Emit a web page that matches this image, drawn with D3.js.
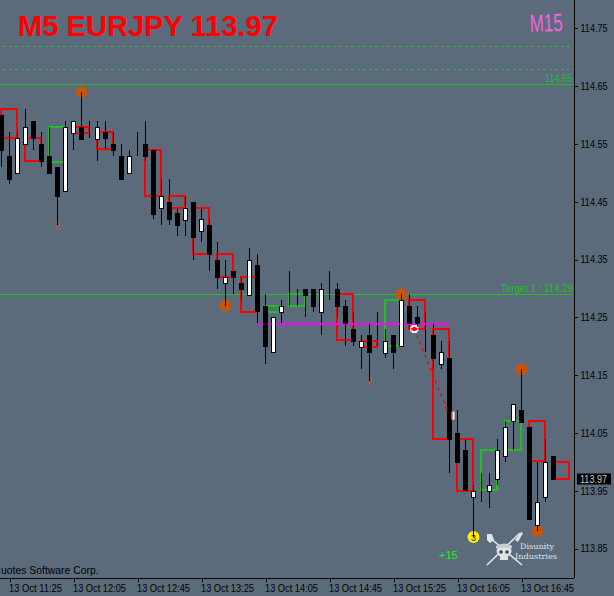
<!DOCTYPE html>
<html><head><meta charset="utf-8">
<script src="https://cdn.jsdelivr.net/npm/d3@7"></script>
<style>html,body{margin:0;padding:0;background:#5b6b7c}svg{display:block}</style>
</head><body><div id="c"></div>
<script>
// M5 candles, one entry per bar (bar 0 = 13 Oct 11:20)
const open=[114.60,114.53,114.50,114.55,114.59,114.55,114.53,114.51,114.47,114.57,114.58,114.57,114.56,114.57,114.55,114.53,114.50,114.54,114.55,114.54,114.44,114.45,114.43,114.42,114.45,114.40,114.41,114.35,114.31,114.33,114.31,114.29,114.34,114.27,114.19,114.26,114.28,114.29,114.30,114.30,114.26,114.29,114.30,114.27,114.23,114.20,114.22,114.20,114.19,114.22,114.20,114.27,114.25,114.23,114.22,114.17,114.18,114.05,114.02,113.94,113.94,113.95,113.97,114.01,114.07,114.09,114.06,113.89,113.94,114.01];
const high=[114.60,114.57,114.57,114.61,114.59,114.57,114.58,114.51,114.59,114.59,114.64,114.59,114.59,114.59,114.57,114.55,114.54,114.57,114.59,114.54,114.49,114.49,114.44,114.46,114.45,114.44,114.42,114.38,114.35,114.33,114.32,114.37,114.36,114.29,114.25,114.28,114.33,114.30,114.30,114.30,114.31,114.33,114.31,114.28,114.26,114.22,114.24,114.26,114.23,114.22,114.29,114.29,114.27,114.26,114.24,114.21,114.21,114.09,114.04,113.96,113.98,113.98,114.04,114.07,114.10,114.16,114.06,114.00,114.04,114.01];
const low=[114.51,114.48,114.50,114.55,114.54,114.51,114.50,114.41,114.47,114.54,114.56,114.56,114.52,114.54,114.53,114.49,114.50,114.53,114.52,114.42,114.41,114.41,114.39,114.39,114.35,114.38,114.33,114.30,114.27,114.29,114.28,114.29,114.24,114.17,114.19,114.24,114.27,114.27,114.25,114.26,114.22,114.28,114.25,114.20,114.20,114.16,114.14,114.20,114.18,114.16,114.20,114.23,114.23,114.19,114.16,114.16,113.98,114.00,113.95,113.87,113.93,113.92,113.96,114.00,114.02,114.07,113.90,113.88,113.93,113.97];
const close=[114.54,114.49,114.56,114.58,114.56,114.52,114.50,114.46,114.58,114.59,114.56,114.57,114.58,114.56,114.54,114.49,114.53,114.54,114.53,114.43,114.46,114.42,114.41,114.44,114.39,114.42,114.36,114.32,114.32,114.32,114.30,114.35,114.26,114.20,114.25,114.27,114.28,114.29,114.29,114.27,114.30,114.29,114.27,114.24,114.21,114.21,114.19,114.20,114.21,114.19,114.28,114.24,114.24,114.23,114.18,114.19,114.04,114.00,113.95,113.95,113.94,113.96,114.02,114.06,114.10,114.07,113.90,113.93,114.00,113.97];
// M15 boxes, every third bar
const boxOpen=[114.61,114.56,114.52,114.58,114.57,114.54,114.54,114.46,114.44,114.36,114.32,114.26,114.27,114.29,114.29,114.21,114.20,114.28,114.23,114.04,113.95,114.02,114.07,114.00];
const boxClose=[114.56,114.52,114.58,114.57,114.54,114.54,114.46,114.44,114.36,114.32,114.26,114.27,114.29,114.29,114.21,114.20,114.28,114.23,114.04,113.95,114.02,114.07,114.00,113.97];
const boxKind=["d","d","u","d","d","d","d","d","d","d","d","u","u","d","d","d","u","d","d","d","u","u","d","d"];
// levels
const solidLevels=[114.653,114.29];
const dashedLevels=[114.719,114.679];
const pivotFromBar=32, pivotToBar=56, pivotPrice=114.24;
// signal markers
const orangeBars=[10,28,50,65,67];
const orangePrices=[114.64,114.27,114.29,114.16,113.88];
const yellowBar=59, yellowPrice=113.87;
const twoBars=[7,46];
const twoPrices=[114.41,114.14];
const tradeBars=[51.6,56];
const tradePrices=[114.23,114.08];
// axes
const priceTicks=[114.75,114.65,114.55,114.45,114.35,114.25,114.15,114.05,113.95,113.85];
const timeTickBars=[1,9,17,25,33,41,49,57,65];
const timeLabels=["13 Oct 11:25","13 Oct 12:05","13 Oct 12:45","13 Oct 13:25","13 Oct 14:05","13 Oct 14:45","13 Oct 15:25","13 Oct 16:05","13 Oct 16:45"];
const lastPrice=113.97;

const W=614,H=596,plotR=574,plotB=578;
const RED="#ff0000",GREEN="#1fc01f",FONT="'Liberation Sans',Arial,sans-serif";
const x=d3.scaleLinear().domain([0,71]).range([1.5,569.5]);
const y=d3.scaleLinear().domain([113.85,114.75]).range([548.6,28.4]);
const svg=d3.select("#c").append("svg").attr("width",W).attr("height",H).style("font-family",FONT);
svg.append("rect").attr("width",W).attr("height",H).attr("fill","#5b6b7c");
const squeeze=(sel,len)=>sel.attr("textLength",len).attr("lengthAdjust","spacingAndGlyphs");

// levels
svg.selectAll("line.solid").data(solidLevels).join("line").attr("class","solid").attr("shape-rendering","crispEdges")
 .attr("x1",0).attr("x2",plotR-1).attr("y1",d=>Math.floor(y(d))+.5).attr("y2",d=>Math.floor(y(d))+.5)
 .attr("stroke",GREEN).attr("stroke-width",1);
svg.selectAll("line.dash").data(dashedLevels).join("line").attr("class","dash").attr("shape-rendering","crispEdges")
 .attr("x1",3).attr("x2",plotR-1).attr("y1",d=>Math.floor(y(d))+.5).attr("y2",d=>Math.floor(y(d))+.5)
 .attr("stroke",GREEN).attr("stroke-width",1).attr("stroke-dasharray","3 3");
squeeze(svg.append("text").attr("x",545).attr("y",82).attr("font-size",10.5).attr("fill",GREEN).text("114.65"),27);
squeeze(svg.append("text").attr("x",501).attr("y",292).attr("font-size",10.5).attr("fill",GREEN).text("Target 1 : 114.29"),72);

// M15 boxes
svg.append("g").attr("fill","none").attr("stroke-width",2).attr("shape-rendering","crispEdges")
 .selectAll("rect").data(boxOpen).join("rect")
 .attr("x",(d,i)=>Math.floor(x(i*3))).attr("width",x(2)-x(0))
 .attr("y",(d,i)=>Math.round(y(Math.max(d,boxClose[i]))))
 .attr("height",(d,i)=>Math.round(Math.abs(y(d)-y(boxClose[i]))))
 .attr("stroke",(d,i)=>boxKind[i]==="u"?GREEN:RED);

// pivot
svg.append("line").attr("shape-rendering","crispEdges").attr("x1",x(pivotFromBar)).attr("x2",x(pivotToBar)).attr("y1",Math.round(y(pivotPrice))+1).attr("y2",Math.round(y(pivotPrice))+1)
 .attr("stroke","#ff00ff").attr("stroke-width",2);

// markers
svg.append("g").selectAll("circle").data(orangeBars).join("circle")
 .attr("cx",d=>x(d)).attr("cy",(d,i)=>y(orangePrices[i])).attr("r",6).attr("fill","#c2560f");
svg.append("g").selectAll("text").data(twoBars).join("text")
 .attr("x",d=>x(d)).attr("y",(d,i)=>y(twoPrices[i])+4).attr("text-anchor","middle").attr("font-size",10).attr("fill","#c2560f").text("2");
svg.append("circle").attr("cx",x(yellowBar)).attr("cy",y(yellowPrice)).attr("r",6).attr("fill","#ffee00");
svg.append("text").attr("x",x(yellowBar)).attr("y",y(yellowPrice)+3.5).attr("text-anchor","middle").attr("font-size",9).attr("fill","#222").text("3");

// trade line
svg.append("line").attr("x1",x(tradeBars[0])).attr("y1",y(tradePrices[0])).attr("x2",x(tradeBars[1])).attr("y2",y(tradePrices[1]))
 .attr("stroke",RED).attr("stroke-dasharray","3 4").attr("stroke-width",1.4);

// candles
const bars=svg.append("g").attr("shape-rendering","crispEdges");
bars.selectAll("line").data(open).join("line")
 .attr("x1",(d,i)=>x(i)).attr("x2",(d,i)=>x(i)).attr("y1",(d,i)=>y(high[i])).attr("y2",(d,i)=>y(low[i])).attr("stroke","#000");
bars.selectAll("rect").data(open).join("rect")
 .attr("x",(d,i)=>x(i)-2).attr("width",4)
 .attr("y",(d,i)=>Math.round(y(Math.max(d,close[i])))+.5)
 .attr("height",(d,i)=>Math.max(0,Math.round(Math.abs(y(d)-y(close[i])))))
 .attr("fill",(d,i)=>close[i]>d?"#fff":"#000").attr("stroke","#000");

// trade markers on top
const ax=x(tradeBars[0]), ay=y(tradePrices[0]);
svg.append("path").attr("d",`M${ax-4} ${ay}h8M${ax} ${ay-4}v8`).attr("stroke","#fff").attr("stroke-width",5);
svg.append("path").attr("d",`M${ax-3} ${ay}h6M${ax} ${ay-2}v4`).attr("stroke",RED).attr("stroke-width",2.5);
const bx=x(tradeBars[1])+3, by=y(tradePrices[1]);
svg.append("rect").attr("x",bx-1).attr("y",by-4).attr("width",3).attr("height",8).attr("fill","#fff");
svg.append("rect").attr("x",bx-1).attr("y",by-4).attr("width",1).attr("height",8).attr("fill",RED);

// axes
const yAxis=d3.axisRight(y).tickValues(priceTicks).tickFormat(d3.format(".2f")).tickSize(3).tickPadding(3);
const gy=svg.append("g").attr("transform",`translate(${plotR+.5},0)`).call(yAxis);
gy.select(".domain").attr("d",`M0,0V${plotB}`);
const xAxis=d3.axisBottom(x).tickValues(timeTickBars).tickFormat((d,i)=>timeLabels[i]).tickSize(3).tickPadding(3);
const gx=svg.append("g").attr("transform",`translate(0,${plotB+.5})`).call(xAxis);
gx.select(".domain").attr("d",`M0,0H${plotR}`);
gx.selectAll("text").attr("text-anchor","start").attr("dx",-1);
[gy,gx].forEach(g=>{g.attr("font-family",FONT).attr("font-size",10.5).attr("fill","#000");
 g.selectAll("line,path").attr("stroke","#000").attr("shape-rendering","crispEdges");g.selectAll("text").attr("fill","#000");});
squeeze(gy.selectAll("text"),27);
squeeze(gx.selectAll("text"),53);

// last price tag
svg.append("rect").attr("x",577).attr("y",Math.round(y(lastPrice))-5.5).attr("width",34).attr("height",11).attr("fill","#000");
squeeze(svg.append("text").attr("x",580).attr("y",y(lastPrice)+4).attr("font-size",10.5).attr("fill","#c8c8c8").text(d3.format(".2f")(lastPrice)),27);

// titles
svg.append("text").attr("x",18).attr("y",36).attr("font-size",29.1).attr("font-weight","bold").attr("fill",RED).text("M5 EURJPY 113.97");
squeeze(svg.append("text").attr("transform","translate(530,32) rotate(-2)").attr("font-size",25).attr("fill","#ee66dd").text("M15"),33);
svg.append("text").attr("x",1).attr("y",574).attr("font-size",10.4).attr("fill","#000").text("uotes Software Corp.");
svg.append("text").attr("x",439).attr("y",559).attr("font-size",11).attr("fill","#22ee22").text("+15");

// logo
const logo=svg.append("g").attr("fill","#dfe3e6").attr("stroke","#dfe3e6");
logo.append("path").attr("fill","none").attr("stroke-width",1.6).attr("d","M487 565L520 533M489 537L522 565");
logo.append("path").attr("stroke","none").attr("d","M487 534l5 0l2 6l-4 3l-3-3zM515 540l6-8l2 1l-5 9z");
logo.append("ellipse").attr("cx",504).attr("cy",551).attr("rx",7.5).attr("ry",6.5).attr("stroke","none");
logo.append("rect").attr("x",500).attr("y",556).attr("width",8).attr("height",4).attr("stroke","none");
logo.append("path").attr("stroke","none").attr("d","M496 546q8-5 16 0l0 2l-16 0z").attr("fill","#c8ced3");
logo.append("circle").attr("cx",501).attr("cy",552).attr("r",1.8).attr("fill","#445").attr("stroke","none");
logo.append("circle").attr("cx",507).attr("cy",552).attr("r",1.8).attr("fill","#445").attr("stroke","none");
const logoText=svg.append("g").attr("font-family","'DejaVu Serif',serif").attr("font-size",7.5).attr("fill","#dfe3e6");
squeeze(logoText.append("text").attr("x",520).attr("y",549).text("Disunity"),34);
squeeze(logoText.append("text").attr("x",515).attr("y",559).text("Industries"),42);
</script></body></html>
